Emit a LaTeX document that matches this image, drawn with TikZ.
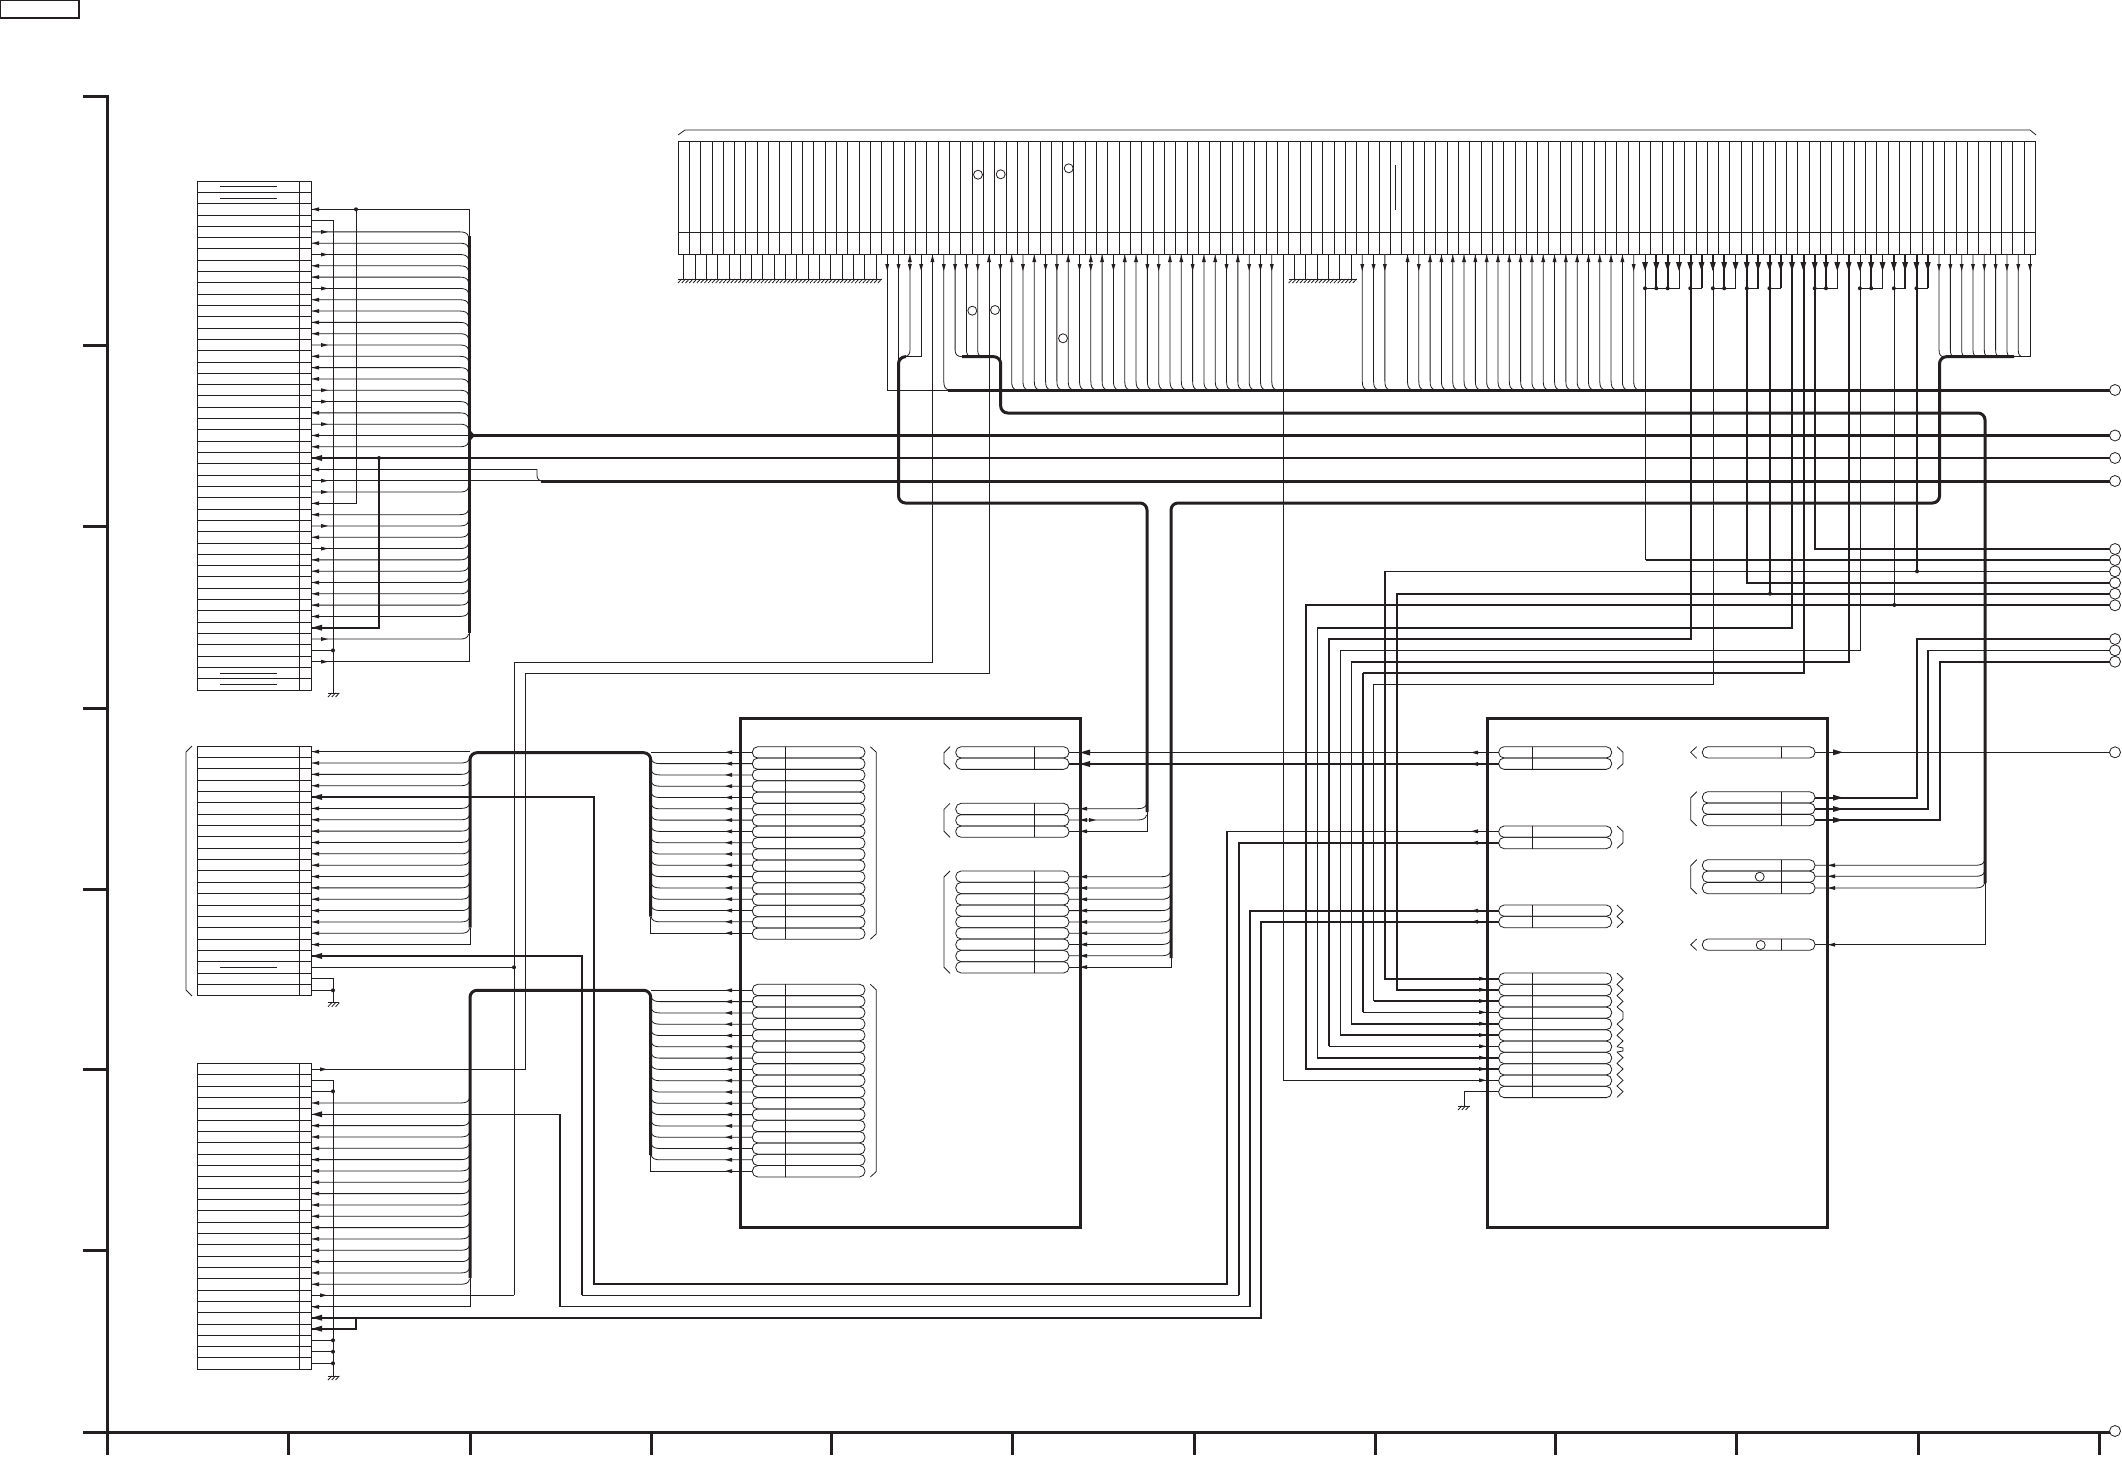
\documentclass[tikz,border=0pt]{standalone}
\definecolor{ink}{HTML}{231F20}
\tikzset{
  tn/.style={draw=ink,line width=0.8pt},
  md/.style={draw=ink,line width=1.9pt},
  tk/.style={draw=ink,line width=3pt},
  bus/.style={draw=ink,line width=3pt,rounded corners=7pt},
  term/.style={draw=ink,line width=0.8pt,fill=white},
}
\newcommand{\LA}[2]{\fill[ink] (#1,#2) -- (#1+7,#2-2) -- (#1+7,#2+2) -- cycle;}
\newcommand{\RA}[2]{\fill[ink] (#1,#2) -- (#1-7,#2-2) -- (#1-7,#2+2) -- cycle;}
\newcommand{\BL}[2]{\fill[ink] (#1,#2) -- (#1+10,#2-3) -- (#1+10,#2+3) -- cycle;}
\newcommand{\BR}[2]{\fill[ink] (#1,#2) -- (#1-10,#2-3) -- (#1-10,#2+3) -- cycle;}
\newcommand{\UA}[2]{\fill[ink] (#1,#2) -- (#1-2,#2+7) -- (#1+2,#2+7) -- cycle;}
\newcommand{\DA}[2]{\fill[ink] (#1,#2) -- (#1-2,#2-7) -- (#1+2,#2-7) -- cycle;}
\newcommand{\BD}[2]{\fill[ink] (#1,#2) -- (#1-3,#2-9) -- (#1+3,#2-9) -- cycle;}
\newcommand{\Dot}[2]{\fill[ink] (#1,#2) circle (2);}
% row from x1 curving into a bus at x=b: up or down, bus to the right of x1
\newcommand{\CU}[3]{\draw[tn] (#1,#3) -- (#2-9,#3) .. controls (#2-5,#3) and (#2-1,#3-1) .. (#2-0.5,#3-5);}
\newcommand{\CD}[3]{\draw[tn] (#1,#3) -- (#2-9,#3) .. controls (#2-5,#3) and (#2-1,#3+1) .. (#2-0.5,#3+5);}
% bus to the left of x2
\newcommand{\CR}[3]{\draw[tn] (#2,#3) -- (#1+9,#3) .. controls (#1+5,#3) and (#1+1,#3-1) .. (#1+0.5,#3-5);}
\newcommand{\gnd}[3]{\draw[tn] (#1,#3) -- (#2,#3);
  \pgfmathsetmacro\gn{int((#2-#1)/3.77+0.5)}
  \foreach \i in {1,...,\gn} {\draw[tn] (#1+3.77*\i,#3) -- (#1+3.77*\i-3.77,#3+4);}}
% connector block: x1, xdiv, x2, ytop, n, pitch
\newcommand{\conn}[6]{\draw[tn] (#1,#4) rectangle (#3,#4+#5*#6);
  \draw[tn] (#2,#4) -- (#2,#4+#5*#6);
  \foreach \k in {1,...,#5} {\draw[tn] (#1,#4+\k*#6) -- (#3,#4+\k*#6);}}
% pill rows: x1, xdiv, x2, ytop, n, pitch
\newcommand{\pills}[6]{\foreach \k in {1,...,#5} {
    \draw[tn,rounded corners=5.4pt] (#1,#4+\k*#6-#6) rectangle (#3,#4+\k*#6);}
  \draw[tn] (#2,#4) -- (#2,#4+#5*#6);}
% right and left brackets: x, y1, y2
\newcommand{\RB}[3]{\draw[tn] (#1-6,#2) -- (#1,#2+5.5) -- (#1,#3-5.5) -- (#1-6,#3);}
\newcommand{\LB}[3]{\draw[tn] (#1+6,#2) -- (#1,#2+6) -- (#1,#3-6) -- (#1+6,#3);}
\newcommand{\Zig}[4]{\draw[tn] (#1-6,#2) \foreach \i in {1,...,#4} { -- (#1,#2+#3*\i-#3/2) -- (#1-6,#2+#3*\i)};}
\begin{document}
\begin{tikzpicture}[x=1pt,y=-1pt]
\useasboundingbox (0,0) rectangle (2122,1456);
\fill[white] (0,0) rectangle (2122,1456);
% title box
\draw[ink,line width=1.1pt] (0.6,0.6) rectangle (79,18);
% frame
\draw[tk,line cap=butt] (83,96) -- (107,96) -- (107,1455);
\draw[tk] (83,1432) -- (2110,1432);
\foreach \y in {345,526,708,889,1069,1250} {\draw[tk] (83,\y) -- (107,\y);}
\foreach \x in {288,470,651,831,1012,1194,1375,1555,1736,1918,2099} {\draw[tk] (\x,1432) -- (\x,1455);}
\draw[term] (2115,1431) circle (5.5);
%% ---------- top connector ----------
\draw[tn] (678,135) -- (685,130) -- (2030,130) -- (2036,135);
\draw[tn] (678,141.3) rectangle (2035.2,254);
\draw[tn] (678,232) -- (2035.2,232);
\foreach \k in {1,...,119} {\draw[tn] (678+11.31*\k,141.3) -- (678+11.31*\k,254);}
\foreach \x/\y in {978/174.7,1000.7/174.3,1068.7/168.3,972.3/310.7,995/310,1063/338.3} {\draw[term] (\x,\y) circle (4.5);}
\draw[tn] (1395.5,165) -- (1395.5,210);
% grounded pins
\foreach \k in {0,...,17} {\draw[tn] (683.65+11.31*\k,254) -- (683.65+11.31*\k,279);}
\gnd{678}{881.6}{279}
\foreach \k in {54,...,59} {\draw[tn] (683.65+11.31*\k,254) -- (683.65+11.31*\k,279);}
\gnd{1288.7}{1356.6}{279}
% pins into the bus at y=390
\foreach \k in {23,29,30,...,52,60,61,62,64,65,...,84} {
  \pgfmathsetmacro\x{683.65+11.31*\k}
  \draw[tn] (\x,254) -- (\x,381) .. controls (\x,386) and (\x+1,389) .. (\x+5,390);}
% down and up arrows
\foreach \k in {18,19,20,21,23,24,25,26,28,30,32,33,35,36,38,41,42,45,48,50,51,52,60,61,62,65,84} {
  \pgfmathsetmacro\x{683.65+11.31*\k} \DA{\x}{271}}
\foreach \k in {20,22,27,29,31,34,36,37,39,40,43,44,46,47,49,64,66,67,...,83} {
  \pgfmathsetmacro\x{683.65+11.31*\k} \UA{\x}{255}}
% left group
\draw[tn] (887.2,254) -- (887.2,390) -- (948,390);
\draw[tn] (898.5,254) -- (898.5,362);
\draw[tn] (910,254) -- (910,350) .. controls (910,354) and (908,356.7) .. (904,356.7);
\draw[tn] (921,254) -- (921,356.7) -- (905,356.7);
\draw[tn] (932.5,254) -- (932.5,662) -- (514,662) -- (514,1295.3);
\draw[tn] (955.1,254) -- (955.1,350) .. controls (955.1,354) and (957,356.7) .. (962,356.7);
\draw[tn] (966.4,254) -- (966.4,350) .. controls (966.4,354) and (968,356.7) .. (972,356.7);
\draw[tn] (977.7,254) -- (977.7,350) .. controls (977.7,354) and (979,356.7) .. (983,356.7);
\draw[tn] (989,254) -- (989,673) -- (525.5,673) -- (525.5,1069);
\draw[tn] (1000.7,254) -- (1000.7,360);
\draw[tn] (1283.4,254) -- (1283.4,1080.3) -- (1498.7,1080.3);
% right group 111..119
\foreach \k in {111,...,118} {
  \pgfmathsetmacro\x{683.65+11.31*\k}
  \draw[tn] (\x,254) -- (\x,350) .. controls (\x,354) and (\x+1,356.7) .. (\x+5,356.7);
  \DA{\x}{271}}
\draw[tn] (2030,254) -- (2030,356.7) -- (2014,356.7);
\DA{2030}{271}
% groups 85..110
\foreach \k in {85,...,110} {
  \pgfmathsetmacro\x{683.65+11.31*\k}
  \draw[tn] (\x,254) -- (\x,270);
  \BD{\x}{271}}
\foreach \a/\b in {85/88,89/90,91/93,94/95,96/97,100/102,104/106,107/108,109/110} {
  \pgfmathsetmacro\xa{683.65+11.31*\a} \pgfmathsetmacro\xb{683.65+11.31*\b}
  \draw[tn] (\xa,288.3) -- (\xb,288.3) -- (\xb,254);
  \Dot{\xa}{288.3}}
\foreach \k in {86,87,90,92,95,97,101,105,108,110} {
  \pgfmathsetmacro\x{683.65+11.31*\k}
  \draw[md] (\x,254) -- (\x,288.3);}
\foreach \k in {86,87,92,101,105} {
  \pgfmathsetmacro\x{683.65+11.31*\k} \Dot{\x}{288.3}}
% long verticals from the groups
\draw[tn] (1645.7,254) -- (1645.7,560);
\draw[md] (1645.7,560) -- (2110,560);
\draw[md] (1691,254) -- (1691,638.7) -- (1329,638.7) -- (1329,1046.3);
\draw[tn] (1713,254) -- (1713,684) -- (1373.7,684) -- (1373.7,1001);
\draw[md] (1747.3,254) -- (1747.3,582.7) -- (2110,582.7);
\draw[md] (1770,254) -- (1770,593.7); \Dot{1770}{593.7}
\draw[md] (1792.3,254) -- (1792.3,628) -- (1317,628) ;
\draw[md] (1803.7,254) -- (1803.7,673) -- (1362.7,673) ;
\draw[md] (1815,254) -- (1815,549) -- (2110,549);
\draw[md] (1849,254) -- (1849,661.7) -- (1351.3,661.7) ;
\draw[tn] (1860.3,254) -- (1860.3,650.3) -- (1340,650.3) ;
\draw[tn] (1894.3,254) -- (1894.3,605); \Dot{1894.3}{605}
\draw[md] (1917,254) -- (1917,571.3); \Dot{1917}{571.3}
\draw[md] (2110,605.3) -- (1305.7,605.3) -- (1305.7,1069) -- (1498.7,1069);
\draw[md] (2110,593.7) -- (1397,593.7) -- (1397,989.7) -- (1498.7,989.7);
\draw[tn] (2110,571.3) -- (1385,571.3); \draw[md] (1385,571.3) -- (1385,978.7) -- (1498.7,978.7);
% mid rows into box 2
\draw[tn] (1317,628) -- (1317,1057.7); \draw[md] (1317,1057.7) -- (1498.7,1057.7);
\draw[tn] (1329,1046.3) -- (1498.7,1046.3);
\draw[tn] (1340,650.3) -- (1340,1035); \draw[md] (1340,1035) -- (1498.7,1035);
\draw[tn] (1351.3,661.7) -- (1351.3,1023.7); \draw[md] (1351.3,1023.7) -- (1498.7,1023.7);
\draw[md] (1362.7,673) -- (1362.7,1012.3); \draw[tn] (1362.7,1012.3) -- (1498.7,1012.3);
\draw[md] (1373.7,1001) -- (1498.7,1001);
%% ---------- main buses ----------
\draw[tk] (948,390) -- (2110,390);
\draw[tk] (469,435.5) -- (2110,435.5);
\draw[md] (311,458) -- (2110,458);
\draw[tk] (541,481) -- (2110,481);
\draw[bus] (906,356.7) -- (898.5,356.7) -- (898.5,503) -- (1147,503) -- (1147,812);
\draw[bus] (2014,356.7) -- (1939.5,356.7) -- (1939.5,503) -- (1171,503) -- (1171,958);
\draw[bus] (962,356.7) -- (1000.7,356.7) -- (1000.7,413) -- (1985,413) -- (1985,883);
\foreach \y in {390,435.5,458,481,549,560,571.3,582.7,593.7,605.3,639,650.3,661.7,752.3} {\draw[term] (2115,\y) circle (5.5);}
% right circle feeders
\draw[md] (1815,797.7) -- (1917,797.7) -- (1917,639) -- (2110,639);
\draw[md] (1815,809) -- (1928,809) -- (1928,650.3); \draw[tn] (1928,650.3) -- (2110,650.3);
\draw[md] (1815,820) -- (1940,820) -- (1940,661.7) -- (2110,661.7);
\draw[tn] (1815,752.3) -- (2110,752.3);
\foreach \y in {797.7,809,820,752.3} {\BR{1843}{\y}}
%% ---------- connector 1 ----------
\conn{197}{299.3}{311}{181}{45}{11.31}
\draw[tn] (220,186.6) -- (277,186.6);
\draw[tn] (220,198) -- (277,198);
\draw[tn] (220,673) -- (277,673);
\draw[tn] (220,684) -- (277,684);
\foreach \k in {4,...,21} {\pgfmathsetmacro\y{181+11.31*(\k+.5)} \CD{311}{469}{\y}}
\foreach \k in {23,27,29,30,...,38,40} {\pgfmathsetmacro\y{181+11.31*(\k+.5)} \CU{311}{469}{\y}}
\foreach \k in {5,7,8,10,11,12,13,15,16,17,20,22,23,25,28,29,31,33,34,35,36,37,38} {
  \pgfmathsetmacro\y{181+11.31*(\k+.5)} \LA{312}{\y}}
\foreach \k in {4,6,9,14,18,19,21,26,27,30,32,40,42} {
  \pgfmathsetmacro\y{181+11.31*(\k+.5)} \RA{328}{\y}}
\LA{312}{209.3}
\draw[tn] (311,209.3) -- (469,209.3) -- (469,236);
\Dot{356}{209.3}
\draw[tn] (356,209.3) -- (356,503.4) -- (311,503.4);
\draw[tn] (311,220.6) -- (333,220.6) -- (333,693);
\gnd{328}{339}{693}
\draw[tn] (311,435.5) -- (469,435.5);
\draw[tk] (469,236) -- (469,633);
\fill[ink] (469,429) -- (475,435.5) -- (469,442) -- cycle;
\BL{312}{458}
\Dot{379}{458}
\draw[md] (379,458) -- (379,627.7) -- (311,627.7);
\BL{312}{627.7}
\draw[tn] (311,469.4) -- (537,469.4) -- (537,475) .. controls (537,479) and (539,481) .. (543,481);
\draw[tn] (311,480.7) -- (541,480.7);
\draw[tn] (311,650.4) -- (333,650.4); \Dot{333}{650.4}
\draw[tn] (311,661.8) -- (469,661.8) -- (469,633);
%% ---------- connector 2 ----------
\conn{197}{299.3}{311}{746}{22}{11.35}
\draw[tn] (220,967.3) -- (277,967.3);
\LB{186}{746}{996}
\foreach \k in {1,2,3,5,6,...,16} {\pgfmathsetmacro\y{746+11.35*(\k+.5)} \CU{311}{470}{\y}}
\foreach \k in {0,1,2,3,5,6,...,17} {\pgfmathsetmacro\y{746+11.35*(\k+.5)} \LA{312}{\y}}
\draw[tn] (311,751.8) -- (470,751.8);
\draw[tn] (311,944.3) -- (470,944.3) -- (470,927.7);
\draw[bus] (470,927.7) -- (470,752.7) -- (650.7,752.7) -- (650.7,916.7);
\BL{312}{797}
\BL{312}{956}
\draw[md] (311,797) -- (594,797) -- (594,1284) -- (1227,1284) -- (1227,831.3);
\draw[tn] (1227,831.3) -- (1498.7,831.3);
\draw[md] (311,956) -- (582,956) -- (582,1295.3);
\draw[tn] (582,1295.3) -- (1239,1295.3);
\draw[md] (1239,1295.3) -- (1239,842.7) -- (1498.7,842.7);
\draw[tn] (311,967.3) -- (514,967.3); \Dot{514}{967.3}
\draw[tn] (311,978.3) -- (333,978.3) -- (333,997);
\draw[tn] (311,990.3) -- (333,990.3); \Dot{333}{990.3}
\gnd{328}{339}{1002.7}
\draw[tn] (333,997) -- (333,1002.7);
%% ---------- connector 3 ----------
\conn{197}{299.3}{311}{1063.3}{27}{11.33}
\draw[tn] (311,1069.3) -- (525.5,1069.3);
\RA{327}{1069.3}
\draw[tn] (311,1080.3) -- (333,1080.3) -- (333,1376);
\gnd{328}{339}{1376}
\draw[tn] (311,1091.3) -- (333,1091.3); \Dot{333}{1091.3}
\foreach \k in {3,5,6,...,19} {\pgfmathsetmacro\y{1063.3+11.33*(\k+.5)} \CU{311}{470}{\y}}
\foreach \k in {3,5,6,...,19,21} {\pgfmathsetmacro\y{1063.3+11.33*(\k+.5)} \LA{312}{\y}}
\draw[tn] (311,1295.3) -- (514,1295.3); \RA{327}{1295.3}
\draw[tn] (311,1306.3) -- (470,1306.3) -- (470,1278);
\draw[bus] (470,1278) -- (470,990.3) -- (650.7,990.3) -- (650.7,1155);
\draw[tn] (311,1114.3) -- (560,1114.3);
\draw[md] (560,1114.3) -- (560,1306.5) -- (1250,1306.5) -- (1250,910.7) -- (1498.7,910.7);
\BL{312}{1114.3}
\draw[draw=ink,line width=2pt] (311,1317.7) -- (1261,1317.7) -- (1261,921.7) -- (1498.7,921.7);
\draw[md] (311,1328.7) -- (356,1328.7) -- (356,1317.7);
\BL{312}{1317.7}\BL{312}{1328.7}
\foreach \y in {1340.3,1351.7,1363.3} {\draw[tn] (311,\y) -- (333,\y); \Dot{333}{\y}}
%% ---------- box 1 ----------
\draw[tk] (740,718.3) rectangle (1080,1227.5);
\pills{752.3}{785.3}{865}{746.7}{17}{11.33}
\RB{876.3}{746.7}{939.3}
\foreach \k in {1,...,15} {\pgfmathsetmacro\y{752.3+11.3*\k} \CR{650.7}{752.3}{\y}}
\foreach \k in {0,...,16} {\pgfmathsetmacro\y{752.3+11.3*\k} \LA{725}{\y}}
\draw[tn] (752.3,752.3) -- (650.7,752.3);
\draw[tn] (752.3,933) -- (650.7,933) -- (650.7,916.7);
\pills{752.3}{785.3}{865}{984.3}{17}{11.33}
\RB{876.3}{984.3}{1177}
\foreach \k in {1,...,15} {\pgfmathsetmacro\y{990.3+11.3*\k} \CR{650.7}{752.3}{\y}}
\foreach \k in {0,...,16} {\pgfmathsetmacro\y{990.3+11.3*\k} \LA{725}{\y}}
\draw[tn] (752.3,990.3) -- (650.7,990.3);
\draw[tn] (752.3,1171) -- (650.7,1171) -- (650.7,1155);
\pills{955.7}{1034.3}{1069}{746.7}{2}{11.33}
\pills{955.7}{1034.3}{1069}{803.3}{3}{11.33}
\pills{955.7}{1034.3}{1069}{871}{9}{11.33}
\LB{944}{746.7}{769.3}
\LB{944}{803.3}{837.3}
\LB{944}{871}{973.3}
%% C rows
\draw[tn] (1069,752.5) -- (1498.7,752.5);
\draw[md] (1069,764) -- (1498.7,764);
\BL{1080}{752.5}\BL{1080}{764}
\LA{1471}{752.5}\LA{1471}{764}
\foreach \y in {808.7,820} {\draw[tn] (1069,\y) -- (1137,\y) .. controls (1142,\y) and (1146,\y-1) .. (1146.5,\y-5); \LA{1080}{\y}}
\draw[tn] (1069,831.3) -- (1147,831.3) -- (1147,812);
\LA{1080}{831.3}
\RA{1096}{820}
\foreach \k in {0,...,7} {\pgfmathsetmacro\y{876.7+11.3*\k}
  \draw[tn] (1069,\y) -- (1161,\y) .. controls (1166,\y) and (1170,\y-1) .. (1170.5,\y-5);}
\foreach \k in {0,...,8} {\pgfmathsetmacro\y{876.7+11.3*\k} \LA{1080}{\y}}
\draw[tn] (1069,967) -- (1171,967) -- (1171,958);
%% ---------- box 2 ----------
\draw[tk] (1487.3,718.3) rectangle (1827,1227.5);
\pills{1498.7}{1532.3}{1611.7}{746.7}{2}{11.33}
\pills{1498.7}{1532.3}{1611.7}{826}{2}{11.33}
\pills{1498.7}{1532.3}{1611.7}{905}{2}{11.33}
\pills{1498.7}{1532.3}{1611.7}{973}{11}{11.33}
\RB{1623}{746.7}{769.3}
\RB{1623}{826}{848.3}
\Zig{1623}{905}{11.33}{2}
\Zig{1623}{973}{11.33}{3}
\draw[tn] (1617,1007) -- (1623,1012) -- (1623,1019) -- (1617,1024);
\Zig{1623}{1024}{11.33}{2}
\draw[tn] (1617,1046.7) -- (1623,1048) -- (1623,1051) -- (1617,1052);
\Zig{1623}{1052}{11.33}{4}
\LA{1471}{831.3}\LA{1471}{842.7}\LA{1471}{910.7}\LA{1471}{921.7}
\foreach \y in {978.7,989.7,1001,1012.3,1023.7,1035,1046.3,1057.7,1069,1080.3} {\RA{1486}{\y}}
\draw[tn] (1498.7,1091.7) -- (1464,1091.7) -- (1464,1106);
\gnd{1458}{1470}{1106}
\pills{1702.3}{1781.3}{1815}{746.7}{1}{11.33}
\pills{1702.3}{1781.3}{1815}{791.7}{3}{11.33}
\pills{1702.3}{1781.3}{1815}{859.7}{3}{11.33}
\pills{1702.3}{1781.3}{1815}{939}{1}{11.33}
\draw[tn] (1696.7,746.7) -- (1690.7,752.3) -- (1696.7,758.3);
\draw[tn] (1696.7,939) -- (1690.7,944.7) -- (1696.7,950.3);
\LB{1690.7}{791.7}{826}
\LB{1690.7}{859.7}{894}
\draw[term] (1759.7,876.7) circle (4.5);
\draw[term] (1760.7,945) circle (4.5);
\foreach \y in {865.3,876.3,888} {\draw[tn] (1815,\y) -- (1975,\y) .. controls (1980,\y) and (1984,\y-1) .. (1984.5,\y-5); \LA{1828}{\y}}
\draw[tn] (1815,944.7) -- (1985,944.7) -- (1985,883);
\LA{1828}{944.7}
\end{tikzpicture}
\end{document}
